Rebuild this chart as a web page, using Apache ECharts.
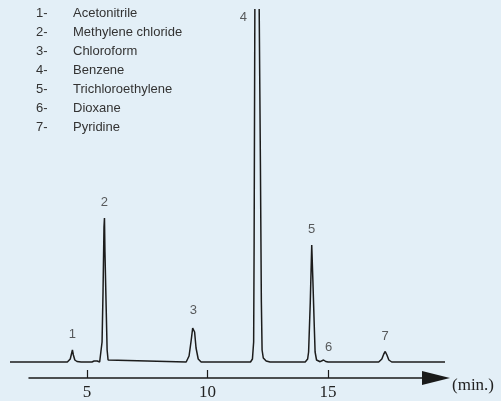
<!DOCTYPE html>
<html>
<head>
<meta charset="utf-8">
<script src="https://cdn.jsdelivr.net/npm/echarts@6/dist/echarts.min.js"></script>
<style>
    html, body { margin: 0; padding: 0; background: #e3eff7; }
    #chromatogram { width: 501px; height: 401px; }
</style>
</head>
<body>
<div id="chromatogram"></div>
<script>
    // retention time (min) / detector signal
    // (benzene goes off scale: the trace is broken at the top)
    var traceTime = [1.80, 4.18, 4.30, 4.36, 4.39, 4.43, 4.49, 4.58, 4.75,
        5.20, 5.29, 5.35, 5.42, 5.52, 5.58, 5.62, 5.66, 5.70, 5.72, 5.74, 5.79, 5.83, 5.87, 5.95,
        9.11, 9.23, 9.32, 9.38, 9.41, 9.46, 9.52, 9.61, 9.73,
        11.78, 11.86, 11.91, 11.93, 11.96, 12.05, 12.14, 12.19, 12.23, 12.26, 12.31, 12.43, 12.59,
        14.05, 14.15, 14.19, 14.26, 14.32, 14.37, 14.42, 14.46, 14.52, 14.58,
        14.67, 14.75, 14.81, 14.90, 15.00,
        17.10, 17.23, 17.31, 17.37, 17.44, 17.52, 17.64, 19.85];
    var traceSignal = [0, 0, 3, 9, 12, 7, 2, 0.5, 0,
        0, 1, 2, 1, 0, 0.5, 20, 70, 135, 144, 110, 55, 12, 2, 0,
        0, 6, 22, 34, 36, 30, 14, 3, 0,
        0, 3, 20, 120, 353, null, 353, 200, 60, 12, 4, 1, 0,
        0, 3, 10, 60, 117, 80, 40, 10, 2, 0,
        0.3, 1.5, 2, 0.5, 0,
        0, 3, 8, 10.5, 7, 2, 0, 0];

    var peakNumbers = ['1', '2', '3', '4', '5', '6', '7'];
    var peakTimes = [4.39, 5.72, 9.41, 11.96, 14.32, 14.81, 17.37];
    var peakHeights = [12, 144, 36, 353, 117, 2, 10.5];
    var compounds = ['Acetonitrile', 'Methylene chloride', 'Chloroform', 'Benzene',
        'Trichloroethylene', 'Dioxane', 'Pyridine'];
    var timeTicks = [5, 10, 15];

    var chart = echarts.init(document.getElementById('chromatogram'));

    var labelShift = { '4': [-11.5, 23.5], '6': [5, 2.5] };

    var trace = traceTime.map(function (t, i) { return [t, traceSignal[i]]; });
    var peaks = peakTimes.map(function (t, i) {
        return {
            value: [t, peakHeights[i]],
            label: { offset: labelShift[peakNumbers[i]] || [0, 0] }
        };
    });

    var texts = [];
    compounds.forEach(function (name, i) {
        var y = 15 + i * 19;
        texts.push({
            type: 'text', left: 36, top: y - 8,
            style: { text: peakNumbers[i] + '-', font: '13px "Liberation Sans"', fill: '#333' }
        });
        texts.push({
            type: 'text', left: 73, top: y - 8,
            style: { text: name, font: '13px "Liberation Sans"', fill: '#333' }
        });
    });
    texts.push({
        type: 'text', left: 452, top: 377,
        style: { text: '(min.)', font: '17px "Liberation Serif"', fill: '#222' }
    });

    var option = {
        backgroundColor: '#e3eff7',
        animation: false,
        // grid 0 carries the trace, grid 1 only the drawn time axis (same scale: 24.1 px/min)
        grid: [
            { left: 10, right: 56, top: 8, bottom: 22 },
            { left: 29, right: 65, top: 8, bottom: 22 }
        ],
        xAxis: [
            {
                type: 'value', gridIndex: 0,
                min: 1.80, max: 19.85,
                show: false
            },
            {
                type: 'value', gridIndex: 1,
                min: 2.59, max: 19.48,
                splitLine: { show: false },
                axisLine: {
                    onZero: false,
                    symbol: ['none', 'triangle'],
                    symbolSize: [14, 28],
                    lineStyle: { color: '#1a1a1a', width: 1.5 }
                },
                axisTick: {
                    inside: true,
                    length: 8,
                    customValues: timeTicks,
                    lineStyle: { color: '#1a1a1a', width: 1.2 }
                },
                axisLabel: {
                    customValues: timeTicks,
                    margin: 6,
                    fontFamily: 'Liberation Serif',
                    fontSize: 17,
                    color: '#222'
                }
            }
        ],
        yAxis: [
            { type: 'value', gridIndex: 0, min: -17, max: 354, show: false },
            { type: 'value', gridIndex: 1, min: 0, max: 1, show: false }
        ],
        graphic: texts,
        series: [
            {
                type: 'line',
                xAxisIndex: 0, yAxisIndex: 0,
                data: trace,
                showSymbol: false,
                connectNulls: false,
                lineStyle: { color: '#1c1c1c', width: 1.5 }
            },
            {
                type: 'scatter',
                xAxisIndex: 0, yAxisIndex: 0,
                data: peaks,
                symbolSize: 0,
                label: {
                    show: true,
                    position: 'top',
                    distance: 9,
                    formatter: function (p) { return peakNumbers[p.dataIndex]; },
                    fontFamily: 'Liberation Sans',
                    fontSize: 13,
                    color: '#333'
                }
            }
        ]
    };
    chart.setOption(option);
</script>
</body>
</html>
